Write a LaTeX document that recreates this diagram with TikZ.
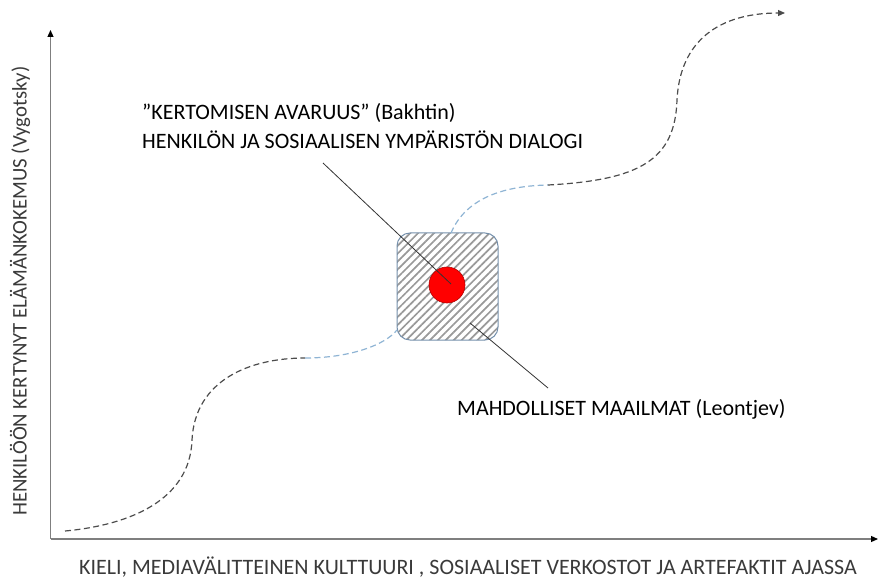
\documentclass[tikz,border=0pt]{standalone}
\usepackage{fontspec}
\setmainfont{Carlito}
\usetikzlibrary{patterns.meta,arrows.meta}
\definecolor{axisgray}{HTML}{7F7F7F}
\definecolor{txtgray}{HTML}{3A3A3A}
\definecolor{boxedge}{HTML}{7590AC}
\definecolor{bluedash}{HTML}{8FB4D4}
\tikzset{
  axisline/.style={draw=axisgray,line width=1.2pt,-{Triangle[length=7pt,width=6pt,fill=black,color=black]}},
  blackdash/.style={draw=black!70,line width=1.2pt,dash pattern=on 6pt off 3.5pt},
  bluedashed/.style={draw=bluedash,line width=1.2pt,dash pattern=on 6pt off 3.5pt},
  lbl/.style={font=\fontsize{22}{29}\selectfont,text=black,inner sep=0pt},
  axlbl/.style={font=\fontsize{22}{27}\selectfont,text=txtgray,inner sep=0pt},
  pointer/.style={draw=black!80,line width=0.8pt}
}
\begin{document}
\begin{tikzpicture}[x=1pt,y=-1pt]
\useasboundingbox (0,0) rectangle (878,580);
% axes
\coordinate (origin) at (50.5,539);
\coordinate (ytip) at (50.5,30);
\coordinate (xtip) at (878,539);
\draw[axisline] (origin) -- (ytip);
\draw[axisline] (origin) -- (xtip);
% box and circle
\node[draw=boxedge,line width=1pt,rounded corners=13pt,minimum width=101pt,minimum height=107pt,
  pattern={Lines[angle=45,distance=5.6pt,line width=1.7pt]},pattern color=black!40] (box) at (447.5,286.5) {};
\node[circle,draw=red!70!black,line width=0.6pt,fill=red,minimum width=36pt,minimum height=35pt,inner sep=0pt] (dot) at (447,285) {};
% dashed curve
\coordinate (c0) at (65,531);
\coordinate (c1) at (305,358);
\coordinate (c2) at (397,330);
\coordinate (c3) at (451,233);
\coordinate (c4) at (548,185);
\coordinate (c5) at (785,13);
\draw[blackdash] (c0) .. controls (130,525) and (190,500) .. (192,440) .. controls (195,380) and (250,358) .. (c1);
\draw[bluedashed] (c1) .. controls (350,358) and (385,345) .. (c2);
\draw[bluedashed] (c3) .. controls (465,200) and (500,186) .. (c4);
\draw[blackdash,-{Triangle[length=7pt,width=6pt]}] (c4) .. controls (640,180) and (675,160) .. (677,100) .. controls (680,40) and (720,13) .. (c5);
% labels
\node[lbl,anchor=west,align=left] (top) at (142,126) {”KERTOMISEN AVARUUS” (Bakhtin)\\HENKILÖN JA SOSIAALISEN YMPÄRISTÖN DIALOGI};
\node[lbl,anchor=west] (leo) at (457,409) {MAHDOLLISET MAAILMAT (Leontjev)};
\node[axlbl] (xl) at (468,567) {KIELI, MEDIAVÄLITTEINEN KULTTUURI , SOSIAALISET VERKOSTOT JA ARTEFAKTIT AJASSA};
\node[axlbl,font=\fontsize{20.8}{25}\selectfont,rotate=90] (yl) at (20,291) {HENKILÖÖN KERTYNYT ELÄMÄNKOKEMUS (Vygotsky)};
% pointers
\coordinate (p1) at (323,163);
\coordinate (p2) at (451,284);
\coordinate (p3) at (470,323);
\coordinate (p4) at (548,388);
\draw[pointer] (p1) -- (p2);
\draw[pointer] (p3) -- (p4);
\end{tikzpicture}
\end{document}
